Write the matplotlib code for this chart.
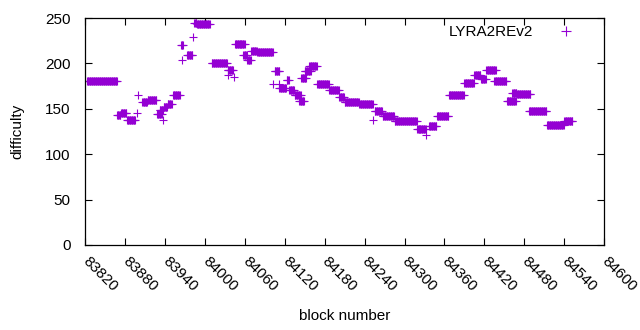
import numpy as np
import matplotlib
matplotlib.use("Agg")
import matplotlib.pyplot as plt

plt.rcParams["font.family"] = ["Liberation Sans", "DejaVu Sans"]

# difficulty plateaus: first block, last block, difficulty
seg_start = [83823, 83868, 83874, 83883, 83898, 83900, 83906, 83914, 83928, 83937,
             83932, 83938, 83944, 83952, 83965, 83964, 83973, 83982, 83984, 83988,
             84010, 84034, 84034, 84043, 84045, 84058, 84064, 84070, 84079, 84105,
             84102, 84111, 84112, 84123, 84127, 84135, 84142, 84145, 84150, 84157,
             84169, 84187, 84202, 84210, 84232, 84253, 84255, 84267, 84285, 84319,
             84333, 84337, 84349, 84367, 84390, 84405, 84415, 84423, 84435, 84454,
             84462, 84469, 84487, 84514, 84540]
seg_end = [83868, 83873, 83882, 83895, 83898, 83900, 83913, 83927, 83935, 83937,
           83937, 83943, 83950, 83962, 83965, 83967, 83981, 83982, 83987, 84007,
           84033, 84042, 84034, 84043, 84060, 84063, 84069, 84078, 84102, 84112,
           84102, 84111, 84122, 84126, 84134, 84144, 84149, 84152, 84159, 84168,
           84186, 84201, 84209, 84231, 84252, 84253, 84266, 84284, 84318, 84332,
           84333, 84348, 84366, 84389, 84404, 84414, 84422, 84437, 84453, 84467,
           84468, 84489, 84513, 84539, 84552]
seg_diff = [181, 143, 145, 138, 145, 165, 157, 160, 144, 138,
            149, 152, 155, 165, 204, 220, 209, 229, 245, 243,
            200, 193, 187, 185, 221, 209, 204, 214, 213, 192,
            177, 177, 173, 182, 171, 165, 159, 184, 192, 197,
            177, 171, 163, 157, 155, 138, 148, 142, 137, 128,
            121, 131, 142, 165, 179, 187, 183, 193, 181, 159,
            168, 166, 148, 132, 137]

xticks = list(range(83820, 84601, 60))
yticks = [0, 50, 100, 150, 200, 250]

blocks = []
diffs = []
for s, e, d in zip(seg_start, seg_end, seg_diff):
    for b in range(s, e + 1):
        blocks.append(b)
        diffs.append(d)

fig = plt.figure(figsize=(6.4, 3.3), dpi=100)
ax = fig.add_axes([0.133, 0.258, 0.811, 0.687])

ax.plot(blocks, diffs, linestyle="none", marker="+", markersize=5.5,
        markeredgewidth=0.8, color="#9400d3", label="LYRA2REv2")

ax.set_xlim(83820, 84600)
ax.set_ylim(0, 250)
ax.set_xticks(xticks)
ax.set_yticks(yticks)
ax.set_xticklabels([str(t) for t in xticks], rotation=-45, ha="left", va="center",
                   rotation_mode="anchor")
ax.tick_params(direction="in", top=True, right=True, labelsize=11, length=5,
               width=0.8, colors="black")
ax.tick_params(axis="x", pad=10)
ax.tick_params(axis="y", pad=10.5)
for sp in ax.spines.values():
    sp.set_linewidth(0.9)

ax.set_xlabel("block number", fontsize=11, labelpad=11)
ax.set_ylabel("difficulty", fontsize=11, labelpad=15)

ax.legend(loc="upper right", bbox_to_anchor=(1.0, 1.017), frameon=False,
          markerfirst=False, fontsize=11, handlelength=3.5, handletextpad=0.4,
          borderpad=0.73, borderaxespad=0, markerscale=1.2)

fig.savefig("out.png", dpi=100)
